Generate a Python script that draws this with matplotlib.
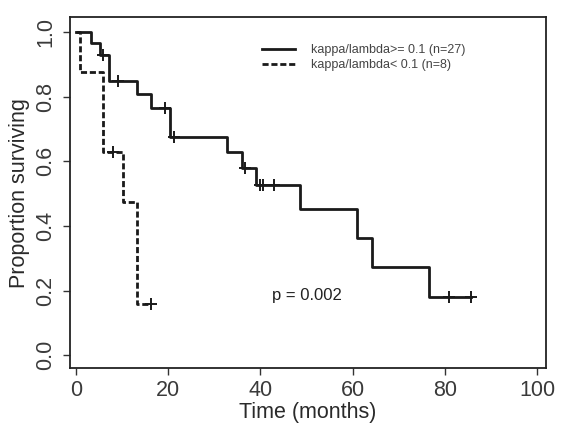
import matplotlib
matplotlib.use("Agg")
from matplotlib import pyplot as plt

plt.rcParams["font.family"] = ["Liberation Sans", "DejaVu Sans"]

# Kaplan-Meier curves (months, proportion surviving).
high_times = [0, 3.2, 5.2, 7.2, 13.3, 16.2, 20.4, 32.8, 35.9, 39.0, 48.5, 61.0, 64.2, 76.6, 85.6]
high_surv = [1.0, 0.965, 0.929, 0.849, 0.807, 0.765, 0.676, 0.628, 0.579, 0.526, 0.452, 0.364, 0.273, 0.18, 0.18]
high_cens_t = [5.9, 9.1, 19.3, 21.3, 36.7, 39.9, 40.6, 43.0, 80.8, 85.6]
high_cens_s = [0.929, 0.849, 0.765, 0.676, 0.579, 0.526, 0.526, 0.526, 0.18, 0.18]

low_times = [0, 0.9, 5.9, 10.1, 13.2, 16.3]
low_surv = [1.0, 0.877, 0.629, 0.475, 0.158, 0.158]
low_cens_t = [8.1, 16.3]
low_cens_s = [0.629, 0.158]

labels = ["kappa/lambda>= 0.1 (n=27)", "kappa/lambda< 0.1 (n=8)"]
p_text = "p = 0.002"

fig = plt.figure(figsize=(5.67, 4.30), dpi=100)
ax = fig.add_axes([0.1235, 0.144, 0.84, 0.816])

ax.step(high_times, high_surv, where="post", color="#1a1a1a", lw=2.0, label=labels[0])
ax.plot(high_cens_t, high_cens_s, ls="none", marker="+", ms=9, mew=1.4, color="#1a1a1a")
ax.step(low_times, low_surv, where="post", color="#1a1a1a", lw=2.0, ls=(0, (2.2, 1.0)),
        label=labels[1])
ax.plot(low_cens_t, low_cens_s, ls="none", marker="+", ms=9, mew=1.4, color="#1a1a1a")

ax.set_xlim(-1.3, 102)
ax.set_ylim(-0.04, 1.046)
ax.set_xticks([0, 20, 40, 60, 80, 100])
ax.set_yticks([0.0, 0.2, 0.4, 0.6, 0.8, 1.0])
ax.set_yticklabels(["0.0", "0.2", "0.4", "0.6", "0.8", "1.0"], rotation=90, va="center")
ax.tick_params(labelsize=15.5, length=5, width=1, direction="out", color="#333333",
               labelcolor="#3a3a3a")
ax.tick_params(axis="y", pad=5)
ax.set_xlabel("Time (months)", fontsize=15.5, labelpad=1, color="#2a2a2a")
ax.set_ylabel("Proportion surviving", fontsize=15.5, labelpad=4, color="#2a2a2a")
for s in ax.spines.values():
    s.set_linewidth(1.3)
    s.set_color("#222222")

ax.legend(loc="upper left", bbox_to_anchor=(0.38, 0.955), frameon=False, fontsize=9,
          handlelength=2.6, handletextpad=1.3, labelspacing=0.25, labelcolor="#444444")
ax.text(50, 0.186, p_text, fontsize=12, ha="center", va="center", color="#222222")

fig.savefig("out.png", dpi=100)
